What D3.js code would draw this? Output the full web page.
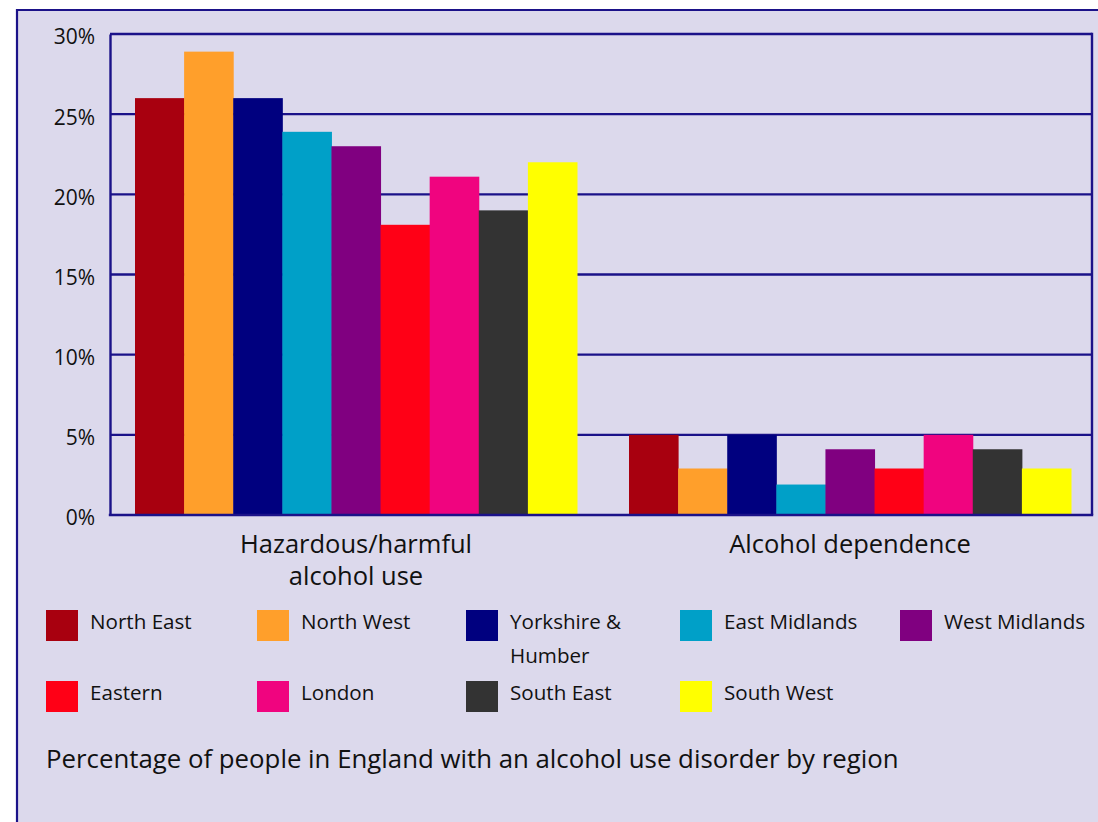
<!DOCTYPE html>
<html>
<head>
<meta charset="utf-8">
<script src="https://cdn.jsdelivr.net/npm/d3@7"></script>
<style>
  html, body { margin: 0; padding: 0; background: #ffffff; }
  svg { display: block; }
  text { font-family: "Open Sans", "Noto Sans", sans-serif; fill: #111111; }
</style>
</head>
<body>
<svg id="chart" width="1098" height="822"></svg>
<script>
// Measures shown on the x axis
const groups = ["Hazardous/harmful alcohol use", "Alcohol dependence"];
const groupLines = [["Hazardous/harmful", "alcohol use"], ["Alcohol dependence"]];

// English regions (one bar per region in each group)
const regions = ["North East", "North West", "Yorkshire & Humber", "East Midlands",
  "West Midlands", "Eastern", "London", "South East", "South West"];
const regionColors = ["#a8000f", "#ff9f2b", "#00007f", "#00a0c8", "#800080",
  "#ff0016", "#f0047f", "#333333", "#ffff00"];

// Percentage of people per region
const hazardousValues = [26, 28.9, 26, 23.9, 23, 18.1, 21.1, 19, 22];
const dependenceValues = [5, 2.9, 5, 1.9, 4.1, 2.9, 5, 4.1, 2.9];

const yTicks = [0, 5, 10, 15, 20, 25, 30];
const title = "Percentage of people in England with an alcohol use disorder by region";

const seriesByGroup = [hazardousValues, dependenceValues];
const navy = "#1b1289";

const svg = d3.select("#chart");

// Panel background and its frame (open to the right and bottom)
svg.append("rect").attr("x", 16).attr("y", 9).attr("width", 1082).attr("height", 813)
  .attr("fill", "#dcd9ec");
svg.append("path").attr("d", "M17,822 V10 H1098")
  .attr("fill", "none").attr("stroke", navy).attr("stroke-width", 2.2);

const plot = { left: 110, right: 1092, top: 34, bottom: 515 };

const y = d3.scaleLinear().domain([0, 30]).range([plot.bottom, plot.top]);

const x0 = d3.scaleBand().domain(groups).range([135, 1071]).paddingInner(0.10526).paddingOuter(0);
const x1 = d3.scaleBand().domain(regions).range([0, x0.bandwidth()]).padding(0);
const color = d3.scaleOrdinal().domain(regions).range(regionColors);

// Horizontal gridlines
svg.append("g").selectAll("line").data(yTicks.filter(t => t > 0)).join("line")
  .attr("x1", plot.left).attr("x2", plot.right)
  .attr("y1", d => y(d)).attr("y2", d => y(d))
  .attr("stroke", navy).attr("stroke-width", 2.4);

// Right frame edge
svg.append("line").attr("x1", plot.right).attr("x2", plot.right)
  .attr("y1", plot.top - 1.2).attr("y2", plot.bottom)
  .attr("stroke", navy).attr("stroke-width", 2.4);

// Bars
const gGroups = svg.append("g").selectAll("g").data(groups).join("g")
  .attr("transform", d => `translate(${x0(d)},0)`);
gGroups.selectAll("rect")
  .data((g, gi) => regions.map((r, i) => ({ region: r, value: seriesByGroup[gi][i] })))
  .join("rect")
  .attr("x", d => x1(d.region))
  .attr("width", x1.bandwidth() + 0.5)
  .attr("y", d => y(d.value))
  .attr("height", d => y(0) - y(d.value))
  .attr("fill", d => color(d.region));

// Y axis
const yAxis = d3.axisLeft(y).tickValues(yTicks).tickFormat(d => d + "%").tickSize(0).tickPadding(15);
const gy = svg.append("g").attr("transform", `translate(${plot.left},0)`).call(yAxis);
gy.select(".domain").attr("stroke", navy).attr("stroke-width", 2.4);
gy.selectAll("text").style("font-size", "21px").attr("fill", "#111111").attr("dy", "0.47em")
  .style("font-family", '"Open Sans", "Noto Sans", sans-serif');

// X axis baseline
svg.append("line").attr("x1", plot.left - 1.2).attr("x2", plot.right + 1.2)
  .attr("y1", plot.bottom).attr("y2", plot.bottom)
  .attr("stroke", navy).attr("stroke-width", 2.4);

// Group labels
const gl = svg.append("g").selectAll("text").data(groups).join("text")
  .attr("x", d => x0(d) + x0.bandwidth() / 2)
  .attr("y", 553)
  .attr("text-anchor", "middle")
  .style("font-size", "25.5px");
gl.selectAll("tspan").data((d, i) => groupLines[i]).join("tspan")
  .attr("x", function () { return d3.select(this.parentNode).attr("x"); })
  .attr("dy", (d, i) => i === 0 ? 0 : 32)
  .text(d => d);

// Legend
const legendCols = [46, 257, 466, 680, 900];
const legendRows = [610, 681];
const legend = svg.append("g").selectAll("g").data(regions).join("g")
  .attr("transform", (d, i) => `translate(${legendCols[i % 5]},${legendRows[Math.floor(i / 5)]})`);
legend.append("rect").attr("width", 32).attr("height", 31).attr("fill", d => color(d));
const lt = legend.append("text").attr("x", 44).attr("y", 19).style("font-size", "20.6px");
lt.selectAll("tspan")
  .data(d => d === "Yorkshire & Humber" ? ["Yorkshire &", "Humber"] : [d])
  .join("tspan").attr("x", 44).attr("dy", (d, i) => i === 0 ? 0 : 34).text(d => d);

// Caption
svg.append("text").attr("x", 46).attr("y", 768).style("font-size", "25.8px").text(title);
</script>
</body>
</html>
